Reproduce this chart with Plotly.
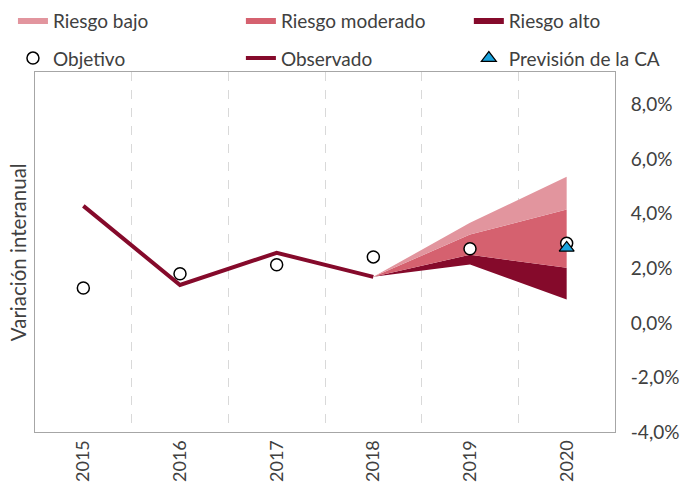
import plotly.graph_objects as go

# Data (percent, year-on-year)
years = ["2015", "2016", "2017", "2018", "2019", "2020"]
observado_years = ["2015", "2016", "2017", "2018"]
observado = [4.29, 1.39, 2.57, 1.69]
objetivo = [1.28, 1.80, 2.13, 2.42, 2.72, 2.92]
prevision_years = ["2020"]
prevision = [2.75]

fan_years = ["2018", "2019", "2020"]
alto_low = [1.69, 2.14, 0.86]
alto_high = [1.69, 2.50, 2.02]
moderado_high = [1.69, 3.24, 4.16]
bajo_high = [1.69, 3.67, 5.36]

y_ticks = [-4, -2, 0, 2, 4, 6, 8]
y_ticktext = ["-4,0%", "-2,0%", "0,0%", "2,0%", "4,0%", "6,0%", "8,0%"]

COLORS = {
    "bajo": "#E2959E",
    "moderado": "#D5616F",
    "alto": "#850A2B",
    "line": "#850A2B",
    "prevision": "#1AA3DD",
}
FONT = "Lato, 'Open Sans', sans-serif"
TEXT_COLOR = "#404040"

fig = go.Figure()

# Fan chart: stacked bands using tonexty fills
fig.add_trace(go.Scatter(
    x=fan_years, y=alto_low, mode="lines", line=dict(width=0),
    showlegend=False, hoverinfo="skip",
))
fig.add_trace(go.Scatter(
    x=fan_years, y=alto_high, mode="none", fill="tonexty",
    fillcolor=COLORS["alto"], name="Riesgo alto", legend="legend3",
))
fig.add_trace(go.Scatter(
    x=fan_years, y=moderado_high, mode="none", fill="tonexty",
    fillcolor=COLORS["moderado"], name="Riesgo moderado", legend="legend2",
))
fig.add_trace(go.Scatter(
    x=fan_years, y=bajo_high, mode="none", fill="tonexty",
    fillcolor=COLORS["bajo"], name="Riesgo bajo", legend="legend",
))

# Observed line
fig.add_trace(go.Scatter(
    x=observado_years, y=observado, mode="lines",
    line=dict(color=COLORS["line"], width=4),
    name="Observado", legend="legend5",
))

# Target points
fig.add_trace(go.Scatter(
    x=years, y=objetivo, mode="markers",
    marker=dict(symbol="circle", size=12, color="white",
                line=dict(color="black", width=1.5)),
    name="Objetivo", legend="legend4",
))

# CA forecast
fig.add_trace(go.Scatter(
    x=prevision_years, y=prevision, mode="markers",
    marker=dict(symbol="triangle-up", size=13, color=COLORS["prevision"],
                line=dict(color="black", width=1.2)),
    name="Previsión de la CA", legend="legend6",
))

legend_common = dict(
    orientation="h",
    xanchor="left",
    yanchor="top",
    font=dict(family=FONT, size=19, color=TEXT_COLOR),
    bgcolor="rgba(0,0,0,0)",
)

# one legend per entry, laid out as a 3x2 grid above the plot
col_x = [-0.038, 0.355, 0.748]
row_y = [1.194, 1.091]

fig.update_layout(
    width=690,
    height=488,
    plot_bgcolor="white",
    paper_bgcolor="white",
    margin=dict(l=35, r=75, t=72, b=56, autoexpand=False),
    font=dict(family=FONT, size=18, color=TEXT_COLOR),
    legend=dict(legend_common, x=col_x[0], y=row_y[0]),
    legend2=dict(legend_common, x=col_x[1], y=row_y[0]),
    legend3=dict(legend_common, x=col_x[2], y=row_y[0]),
    legend4=dict(legend_common, x=col_x[0], y=row_y[1]),
    legend5=dict(legend_common, x=col_x[1], y=row_y[1]),
    legend6=dict(legend_common, x=col_x[2], y=row_y[1]),
    xaxis=dict(
        type="category",
        categoryorder="array",
        categoryarray=years,
        range=[-0.5, 5.5],
        tickson="boundaries",
        showgrid=True,
        griddash="dash",
        gridcolor="#D9D9D9",
        gridwidth=1,
        tickangle=-90,
        ticks="",
        showline=True,
        linecolor="#A6A6A6",
        mirror=True,
        tickfont=dict(family=FONT, size=18, color=TEXT_COLOR),
        fixedrange=True,
    ),
    yaxis=dict(
        side="right",
        range=[-4, 9.2],
        tickvals=y_ticks,
        ticktext=y_ticktext,
        showgrid=False,
        zeroline=False,
        ticks="",
        ticklabelstandoff=11,
        showline=True,
        linecolor="#A6A6A6",
        mirror=True,
        tickfont=dict(family=FONT, size=19, color=TEXT_COLOR),
        fixedrange=True,
    ),
    annotations=[
        dict(
            text="Variación interanual",
            xref="paper", yref="paper",
            x=-0.029, y=0.5,
            xanchor="center", yanchor="middle",
            textangle=-90,
            showarrow=False,
            font=dict(family=FONT, size=20.5, color=TEXT_COLOR),
        )
    ],
)

# drop the default page margin so the figure sits at the window's corner
fig.write_html(
    "out.html",
    config={"displayModeBar": False},
    post_script="document.body.style.margin='0';",
)
